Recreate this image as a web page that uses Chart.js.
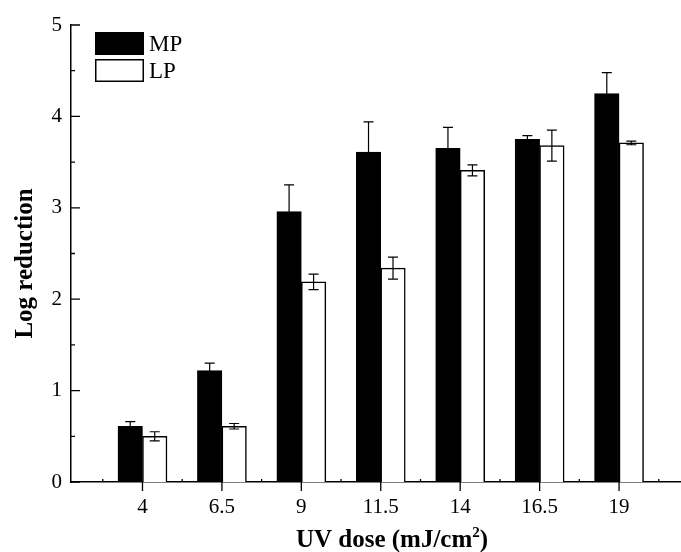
<!DOCTYPE html>
<html>
<head>
<meta charset="utf-8">
<script src="https://cdn.jsdelivr.net/npm/chart.js@4.4.1/dist/chart.umd.min.js"></script>
<style>
  html, body { margin: 0; padding: 0; background: #fff; }
  #wrap { width: 681px; height: 552px; position: relative; }
</style>
</head>
<body>
<div id="wrap"><canvas id="c"></canvas></div>
<script>
// ---- data ----
const doses = [4, 6.5, 9, 11.5, 14, 16.5, 19];
const tickLabels = ["4", "6.5", "9", "11.5", "14", "16.5", "19"];
const seriesNames = ["MP", "LP"];
const mpValues = [0.61, 1.22, 2.96, 3.61, 3.65, 3.75, 4.25];
const mpErrors = [0.05, 0.08, 0.29, 0.33, 0.23, 0.04, 0.23];
const lpValues = [0.50, 0.61, 2.19, 2.34, 3.41, 3.68, 3.71];
const lpErrors = [0.05, 0.03, 0.085, 0.12, 0.06, 0.17, 0.02];
const yTickValues = [0, 1, 2, 3, 4, 5];
const yTitle = "Log reduction";
const xTitleMain = "UV dose (mJ/cm";
const xTitleSup = "2";
const xTitleEnd = ")";

const FONT = "'Liberation Serif', 'Times New Roman', serif";

function pts(vals) { return doses.map((d, i) => ({ x: d, y: vals[i] })); }

const errorBarPlugin = {
  id: 'errorBars',
  afterDatasetsDraw(chart) {
    const ctx = chart.ctx;
    const ys = chart.scales.y;
    chart.data.datasets.forEach((ds, di) => {
      const meta = chart.getDatasetMeta(di);
      ctx.save();
      ctx.strokeStyle = '#000';
      ctx.lineWidth = 1.2;
      meta.data.forEach((bar, j) => {
        const v = ds.data[j].y, e = ds.errors[j];
        const yt = ys.getPixelForValue(v + e);
        const yb = ys.getPixelForValue(v - e);
        const x = bar.x;
        ctx.beginPath();
        ctx.moveTo(x, yt); ctx.lineTo(x, yb);
        ctx.moveTo(x - 5, yt); ctx.lineTo(x + 5, yt);
        ctx.moveTo(x - 5, yb); ctx.lineTo(x + 5, yb);
        ctx.stroke();
      });
      ctx.restore();
    });
  }
};

const tickPlugin = {
  id: 'tickMarks',
  afterDraw(chart) {
    const ctx = chart.ctx;
    const xs = chart.scales.x, ys = chart.scales.y;
    const L = chart.chartArea.left, B = chart.chartArea.bottom;
    ctx.save();
    ctx.strokeStyle = '#000';
    ctx.lineWidth = 1.3;
    ctx.beginPath();
    yTickValues.forEach((v, i) => {
      const y = ys.getPixelForValue(v);
      ctx.moveTo(L, y); ctx.lineTo(L + 9, y);
      if (i < yTickValues.length - 1) {
        const ym = ys.getPixelForValue((v + yTickValues[i + 1]) / 2);
        ctx.moveTo(L, ym); ctx.lineTo(L + 4, ym);
      }
    });
    doses.forEach((d, i) => {
      const x = xs.getPixelForValue(d);
      ctx.moveTo(x, B); ctx.lineTo(x, B + 9);
      const step = 2.5;
      const xm = xs.getPixelForValue(d + step / 2);
      ctx.moveTo(xm, B); ctx.lineTo(xm, B - 3);
      if (i === 0) {
        const xm0 = xs.getPixelForValue(d - step / 2);
        ctx.moveTo(xm0, B); ctx.lineTo(xm0, B - 3);
      }
    });
    ctx.stroke();
    ctx.restore();
  }
};

const titlePlugin = {
  id: 'axisTitles',
  afterDraw(chart) {
    const ctx = chart.ctx;
    const ca = chart.chartArea;
    ctx.save();
    ctx.fillStyle = '#000';
    // y title (rotated)
    ctx.font = "bold 25px " + FONT;
    ctx.textAlign = 'center';
    ctx.textBaseline = 'alphabetic';
    ctx.translate(31.5, (ca.top + ca.bottom) / 2 + 10);
    ctx.rotate(-Math.PI / 2);
    ctx.fillText(yTitle, 0, 0);
    ctx.restore();

    ctx.save();
    ctx.fillStyle = '#000';
    ctx.textBaseline = 'alphabetic';
    ctx.textAlign = 'left';
    const big = "bold 25px " + FONT, small = "bold 15px " + FONT;
    ctx.font = big; const w1 = ctx.measureText(xTitleMain).width;
    const w3 = ctx.measureText(xTitleEnd).width;
    ctx.font = small; const w2 = ctx.measureText(xTitleSup).width;
    const total = w1 + w2 + w3;
    const cx = (ca.left + ca.right) / 2 + 16;
    let x = cx - total / 2;
    const base = 547;
    ctx.font = big; ctx.fillText(xTitleMain, x, base); x += w1;
    ctx.font = small; ctx.fillText(xTitleSup, x, base - 10); x += w2;
    ctx.font = big; ctx.fillText(xTitleEnd, x, base);
    ctx.restore();
  }
};

const legendPlugin = {
  id: 'boxLegend',
  afterDraw(chart) {
    const ctx = chart.ctx;
    const x0 = 95, y0 = 32, w = 49, h = 23, gap = 4;
    ctx.save();
    chart.data.datasets.forEach((ds, i) => {
      const y = y0 + i * (h + gap);
      ctx.fillStyle = ds.backgroundColor;
      ctx.fillRect(x0, y, w, h);
      ctx.strokeStyle = '#000';
      ctx.lineWidth = 1.5;
      ctx.strokeRect(x0 + 0.75, y + 0.75, w - 1.5, h - 1.5);
      ctx.fillStyle = '#000';
      ctx.font = "23px " + FONT;
      ctx.textBaseline = 'middle';
      ctx.textAlign = 'left';
      ctx.fillText(ds.label, x0 + w + 5, y + h / 2 + 1);
    });
    ctx.restore();
  }
};

new Chart(document.getElementById('c'), {
  type: 'bar',
  data: {
    datasets: [
      {
        label: seriesNames[0],
        data: pts(mpValues),
        errors: mpErrors,
        backgroundColor: '#000000',
        borderColor: '#000000',
        borderWidth: 1.5,
        barThickness: 24.5
      },
      {
        label: seriesNames[1],
        data: pts(lpValues),
        errors: lpErrors,
        backgroundColor: '#ffffff',
        borderColor: '#000000',
        borderWidth: 1.5,
        barThickness: 24.5
      }
    ]
  },
  options: {
    responsive: true,
    maintainAspectRatio: false,
    animation: false,
    devicePixelRatio: 1,
    layout: { padding: { top: 25, right: 0, left: 0, bottom: 0 } },
    plugins: {
      legend: { display: false },
      tooltip: { enabled: false }
    },
    scales: {
      x: {
        type: 'linear',
        min: 1.75,
        max: 20.95,
        offset: false,
        afterBuildTicks(scale) { scale.ticks = doses.map(v => ({ value: v })); },
        afterFit(scale) { scale.height = 70; },
        grid: { display: false, drawTicks: false },
        border: { display: true, color: '#000', width: 1.5 },
        ticks: {
          autoSkip: false,
          maxRotation: 0,
          padding: 13,
          color: '#000',
          font: { family: FONT, size: 21 },
          callback: (v, i) => tickLabels[i]
        }
      },
      y: {
        min: 0,
        max: 5,
        afterBuildTicks(scale) { scale.ticks = yTickValues.map(v => ({ value: v })); },
        afterFit(scale) { scale.width = 71; },
        grid: { display: false, drawTicks: false },
        border: { display: true, color: '#000', width: 1.5 },
        ticks: {
          padding: 9,
          color: '#000',
          font: { family: FONT, size: 21 }
        }
      }
    }
  },
  plugins: [errorBarPlugin, tickPlugin, titlePlugin, legendPlugin]
});
</script>
</body>
</html>
